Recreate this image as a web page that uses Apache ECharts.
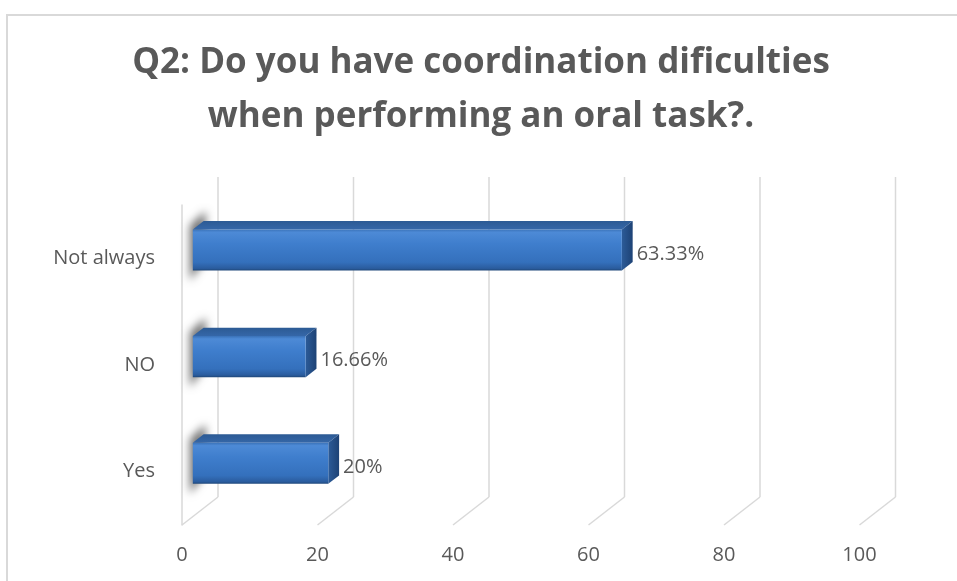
<!DOCTYPE html>
<html>
<head>
<meta charset="utf-8">
<script src="https://cdn.jsdelivr.net/npm/echarts@6/dist/echarts.min.js"></script>
<style>
  html, body { margin: 0; padding: 0; background: #ffffff; }
  #chart { width: 957px; height: 581px; }
</style>
</head>
<body>
<div id="chart"></div>
<script>
// Survey answers, listed bottom to top as they appear on the category axis
const categories = ['Yes', 'NO', 'Not always'];
const percentages = [20, 16.66, 63.33];
// Value axis ticks
const xTicks = [0, 20, 40, 60, 80, 100];

// Oblique depth of the 3D box (front plane -> back wall)
const DEPTH_X = 36;
const DEPTH_Y = -28;
// Bars sit part way into the box and are this deep
const BAR_START = 0.3;
const BAR_DEPTH = 0.3;
const BAR_HEIGHT_RATIO = 0.385;

const GRID_COLOR = '#d9d9d9';
const TEXT_COLOR = '#595959';
const FONT = '"Open Sans", sans-serif';

const chart = echarts.init(document.getElementById('chart'), null, { renderer: 'canvas' });

// Back wall grid lines and floor diagonals for each value tick
function renderWalls(params, api) {
  const cs = params.coordSys;
  const p = api.coord([api.value(0), 0]);
  const x = p[0];
  const bottom = cs.y + cs.height;
  const lineStyle = { stroke: GRID_COLOR, lineWidth: 1.5, fill: null };
  return {
    type: 'group',
    children: [
      {
        type: 'line',
        shape: { x1: x + DEPTH_X, y1: cs.y + DEPTH_Y, x2: x + DEPTH_X, y2: bottom + DEPTH_Y },
        style: lineStyle
      },
      {
        type: 'line',
        shape: { x1: x, y1: bottom, x2: x + DEPTH_X, y2: bottom + DEPTH_Y },
        style: lineStyle
      }
    ]
  };
}

// 3D horizontal bar: shadow on the side wall, top face, end face, front face, label
function renderBar(params, api) {
  const value = api.value(0);
  const idx = api.value(1);
  const start = api.coord([0, idx]);
  const end = api.coord([value, idx]);
  const band = api.size([0, 1])[1];
  const h = band * BAR_HEIGHT_RATIO;

  const ox = DEPTH_X * BAR_START;
  const oy = DEPTH_Y * BAR_START;
  const bx = DEPTH_X * BAR_DEPTH;
  const by = DEPTH_Y * BAR_DEPTH;

  const x0 = start[0] + ox;
  const x1 = end[0] + ox;
  const yc = start[1] + oy;
  const yTop = yc - h / 2;
  const yBot = yc + h / 2;

  const FAR = 1500;

  return {
    type: 'group',
    children: [
      // soft shadow cast on the left wall (shape drawn off-canvas, only its shadow lands here)
      {
        type: 'polygon',
        shape: {
          points: [
            [x0 - 3 + FAR, yTop - 4],
            [x0 + bx + 2 + FAR, yTop + by - 10],
            [x0 + bx + 2 + FAR, yBot + by - 2],
            [x0 - 3 + FAR, yBot + 10]
          ]
        },
        style: {
          fill: '#000',
          shadowBlur: 9,
          shadowColor: 'rgba(0,0,0,0.55)',
          shadowOffsetX: -FAR,
          shadowOffsetY: 0
        }
      },
      // top face
      {
        type: 'polygon',
        shape: {
          points: [[x0, yTop], [x1, yTop], [x1 + bx, yTop + by], [x0 + bx, yTop + by]]
        },
        style: {
          fill: new echarts.graphic.LinearGradient(0, 0, 0, 1, [
            { offset: 0, color: '#2c5a94' },
            { offset: 1, color: '#3567a8' }
          ])
        }
      },
      // right end face
      {
        type: 'polygon',
        shape: {
          points: [[x1, yTop], [x1 + bx, yTop + by], [x1 + bx, yBot + by], [x1, yBot]]
        },
        style: {
          fill: new echarts.graphic.LinearGradient(0, 0, 1, 0, [
            { offset: 0, color: '#2c5b98' },
            { offset: 1, color: '#1d4275' }
          ])
        }
      },
      // front face
      {
        type: 'rect',
        shape: { x: x0, y: yTop, width: x1 - x0, height: h },
        style: {
          fill: new echarts.graphic.LinearGradient(0, 0, 0, 1, [
            { offset: 0, color: '#3a72b8' },
            { offset: 0.07, color: '#4d8ad6' },
            { offset: 0.35, color: '#3f7ecd' },
            { offset: 0.8, color: '#3470bc' },
            { offset: 0.95, color: '#2a5c9e' },
            { offset: 1, color: '#1f4779' }
          ])
        }
      },
      // value label
      {
        type: 'text',
        style: {
          x: x1 + bx + 4,
          y: yc + 4,
          text: value + '%',
          fill: TEXT_COLOR,
          fontSize: 20,
          fontFamily: FONT,
          align: 'left',
          verticalAlign: 'middle'
        }
      }
    ]
  };
}

const option = {
  animation: false,
  backgroundColor: '#ffffff',
  title: {
    text: 'Q2: Do you have coordination dificulties\nwhen performing an oral task?.',
    left: 481,
    top: 36,
    padding: 0,
    textAlign: 'center',
    textStyle: {
      color: TEXT_COLOR,
      fontFamily: FONT,
      fontWeight: 'bold',
      fontSize: 35,
      lineHeight: 54
    }
  },
  graphic: [
    {
      type: 'rect',
      shape: { x: 7, y: 15, width: 1000, height: 1000 },
      style: { fill: null, stroke: GRID_COLOR, lineWidth: 2 },
      silent: true,
      z: -10
    }
  ],
  grid: {
    left: 182,
    right: 97.5,
    top: 205,
    bottom: 56
  },
  xAxis: {
    type: 'value',
    min: 0,
    max: 100,
    interval: 20,
    axisLine: { show: false },
    axisTick: { show: false },
    splitLine: { show: false },
    axisLabel: {
      color: TEXT_COLOR,
      fontSize: 20,
      fontFamily: FONT,
      margin: 20,
      customValues: xTicks
    }
  },
  yAxis: {
    type: 'category',
    data: categories,
    axisLine: { show: true, lineStyle: { color: GRID_COLOR, width: 1.5 } },
    axisTick: { show: false },
    splitLine: { show: false },
    axisLabel: {
      color: TEXT_COLOR,
      fontSize: 20,
      fontFamily: FONT,
      margin: 27
    }
  },
  series: [
    {
      type: 'custom',
      name: 'walls',
      silent: true,
      z: 1,
      data: xTicks.map(v => [v, 0]),
      encode: { x: 0, y: 1 },
      renderItem: renderWalls
    },
    {
      type: 'custom',
      name: 'answers',
      z: 5,
      data: percentages.map((v, i) => [v, i]),
      encode: { x: 0, y: 1 },
      renderItem: renderBar
    }
  ]
};

chart.setOption(option);
</script>
</body>
</html>
